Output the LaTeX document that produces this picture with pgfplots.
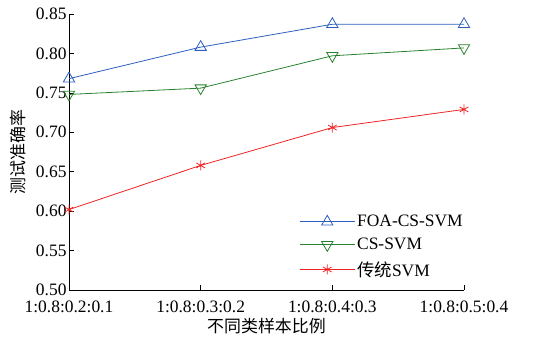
\documentclass[border=0pt]{standalone}
\usepackage{pgfplots}
\pgfplotsset{compat=1.18}
\usepackage{fontspec}
\setmainfont{Liberation Serif}
\newfontfamily\cjk{Noto Sans CJK SC}
\definecolor{cblue}{RGB}{45,95,190}
\definecolor{cgreen}{RGB}{40,130,45}
\definecolor{cred}{RGB}{240,35,35}
\begin{document}
\begin{tikzpicture}
\useasboundingbox (-69bp,-49bp) rectangle (471bp,290bp);
\begin{axis}[
  scale only axis, width=395bp, height=276bp,
  axis lines=left, axis line style={-, black, line width=0.8pt},
  xmin=0, xmax=3, ymin=0.5, ymax=0.85,
  xtick={0,1,2,3},
  xticklabels={1:0.8:0.2:0.1,1:0.8:0.3:0.2,1:0.8:0.4:0.3,1:0.8:0.5:0.4},
  ytick={0.50,0.55,...,0.85},
  yticklabel style={xshift=1bp},
  yticklabel={\pgfmathprintnumber[fixed, fixed zerofill, precision=2, assume math mode=true]{\tick}},
  /pgf/number format/assume math mode=true,
  tick align=inside, major tick length=5bp,
  tick style={black, line width=0.6pt},
  ticklabel style={font=\fontsize{17.5}{19}\selectfont},
  xticklabel style={yshift=-7bp},
  xlabel={\cjk 不同类样本比例},
  ylabel={\cjk 测试准确率},
  label style={font=\fontsize{17}{19}\selectfont},
  xlabel style={yshift=1bp},
  ylabel style={yshift=3bp},
  legend style={draw=none, fill=none, at={(1.01,0.03)}, anchor=south east, font=\fontsize{17.5}{19}\selectfont, row sep=6pt},
  legend cell align=left,
  legend image code/.code={\draw[#1] (0bp,0bp) -- (55bp,0bp); \draw[#1, only marks] plot coordinates {(27.5bp,0bp)};},
  clip=false,
]
\addplot[cblue, line width=0.8pt, mark=triangle, mark size=6.5bp, mark options={line width=0.8pt}] coordinates {(0,0.768) (1,0.808) (2,0.837) (3,0.837)};
\addlegendentry{FOA-CS-SVM}
\addplot[cgreen, line width=0.8pt, mark=triangle, mark size=6.5bp, mark options={rotate=180, line width=0.8pt}] coordinates {(0,0.748) (1,0.756) (2,0.797) (3,0.807)};
\addlegendentry{CS-SVM}
\addplot[cred, line width=0.8pt, mark=asterisk, mark size=5bp, mark options={line width=0.8pt}] coordinates {(0,0.602) (1,0.658) (2,0.706) (3,0.729)};
\addlegendentry{\cjk 传统\rmfamily SVM}
\end{axis}
\end{tikzpicture}
\end{document}
